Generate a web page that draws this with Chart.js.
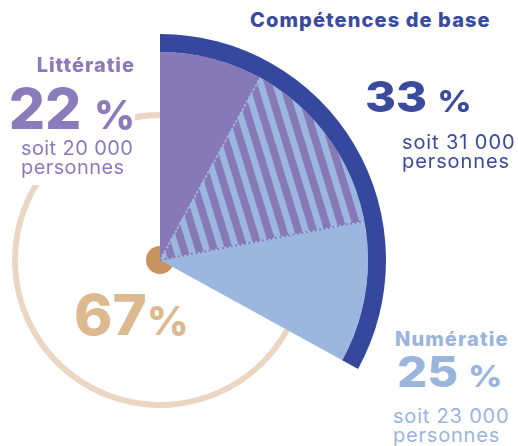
<!DOCTYPE html>
<html lang="fr">
<head>
<meta charset="utf-8">
<script src="https://cdn.jsdelivr.net/npm/chart.js@4"></script>
<style>
  html, body { margin: 0; padding: 0; background: #fff; }
  body { width: 518px; height: 446px; position: relative; overflow: hidden; font-family: Inter, "Noto Sans", sans-serif; }
  canvas { position: absolute; left: -66px; top: 34px; }
  .lbl { position: absolute; line-height: 1; white-space: nowrap; }
  .head { font-weight: 800; font-size: 20px; }
  .big { font-weight: 800; transform-origin: left top; }
  .big span { font-size: 0.7em; }
  .sub { font-size: 20px; line-height: 19px; font-weight: 400; }
</style>
</head>
<body>
<canvas id="ringChart" width="452" height="452"></canvas>
<canvas id="mainChart" width="452" height="452"></canvas>

<div class="lbl head" id="titleBase" style="left:250px; top:10px; color:#3a4a9e; letter-spacing:1.1px"></div>
<div class="lbl head" id="titleLit" style="right:383px; top:55px; color:#8a7bbd; letter-spacing:1px"></div>
<div class="lbl big" id="pctLit" style="right:383px; top:80px; font-size:57px; color:#8a7bbd; background:#fff; padding:0 0 2px 4px"></div>
<div class="lbl sub" id="subLit" style="left:21px; top:139px; color:#8a7bbd; background:#fff; padding-bottom:8px; letter-spacing:0.4px"></div>
<div class="lbl big" id="pctBase" style="left:365px; top:75px; font-size:43px; color:#3a4a9e; transform:scaleX(1.1)"></div>
<div class="lbl sub" id="subBase" style="left:402px; top:133px; color:#3a4a9e; letter-spacing:0.9px"></div>
<div class="lbl head" id="titleNum" style="left:395px; top:329px; color:#9ab5dc; letter-spacing:1.1px"></div>
<div class="lbl big" id="pctNum" style="left:397px; top:350px; font-size:43px; color:#9ab5dc; transform:scaleX(1.1)"></div>
<div class="lbl sub" id="subNum" style="left:393px; top:407px; color:#9ab5dc; letter-spacing:0.8px"></div>
<div class="lbl big" id="pctRest" style="left:74px; top:287px; font-size:56px; color:#dcb98f; transform:scaleX(1.04)"></div>

<script>
const categories = ["Littératie", "Numératie", "Compétences de base"];
const percentValues = [22, 25, 33];
const remainderValue = 67;
const peopleCounts = ["20 000", "23 000", "31 000"];

const purple = "#8779b8";
const lightBlue = "#9bb7df";
const darkBlue = "#36489d";
const beige = "#ead6c3";
const brown = "#c7945f";

// overlap of the two skills = both minus the union
const overlap = percentValues[0] + percentValues[1] - percentValues[2];
const innerValues = [percentValues[0] - overlap, overlap, percentValues[1] - overlap, remainderValue];
const outerValues = [percentValues[2], remainderValue];

function stripes() {
  const w = 15, h = 49;
  const tile = document.createElement("canvas");
  tile.width = w;
  tile.height = h;
  const c = tile.getContext("2d");
  c.fillStyle = lightBlue;
  c.fillRect(0, 0, w, h);
  c.fillStyle = purple;
  for (const off of [-w, 0, w]) {
    c.beginPath();
    c.moveTo(off, 0);
    c.lineTo(off + 8, 0);
    c.lineTo(off + 8 + w, h);
    c.lineTo(off + w, h);
    c.closePath();
    c.fill();
  }
  return c.createPattern(tile, "repeat");
}

const centerDot = {
  id: "centerDot",
  afterDatasetsDraw(chart) {
    const arc = chart.getDatasetMeta(0).data[0];
    const ctx = chart.ctx;
    ctx.save();
    ctx.fillStyle = brown;
    ctx.beginPath();
    ctx.arc(arc.x, arc.y, 14, 0, Math.PI * 2);
    ctx.fill();
    ctx.restore();
  }
};

const dottedEdges = {
  id: "dottedEdges",
  afterDatasetsDraw(chart) {
    const arc = chart.getDatasetMeta(1).data[1];
    const ctx = chart.ctx;
    const edges = [[arc.startAngle, lightBlue], [arc.endAngle, purple]];
    ctx.save();
    ctx.lineWidth = 2;
    ctx.setLineDash([2, 2.5]);
    edges.forEach(([a, col]) => {
      ctx.strokeStyle = col;
      ctx.beginPath();
      ctx.moveTo(arc.x, arc.y);
      ctx.lineTo(arc.x + Math.cos(a) * arc.outerRadius, arc.y + Math.sin(a) * arc.outerRadius);
      ctx.stroke();
    });
    ctx.restore();
  }
};

const common = {
  responsive: false,
  animation: false,
  events: [],
  plugins: { legend: { display: false }, tooltip: { enabled: false } }
};

new Chart("ringChart", {
  type: "doughnut",
  data: {
    labels: ["", "reste"],
    datasets: [{
      data: outerValues,
      backgroundColor: ["rgba(0,0,0,0)", beige],
      borderWidth: 0,
      hoverOffset: 0
    }]
  },
  options: { ...common, radius: 148, cutout: "96%" },
  plugins: [centerDot]
});

new Chart("mainChart", {
  type: "pie",
  data: {
    labels: ["Littératie", "Les deux", "Numératie", "reste"],
    datasets: [
      {
        data: outerValues,
        backgroundColor: [darkBlue, "rgba(0,0,0,0)"],
        borderWidth: 0,
        hoverOffset: 0,
        weight: 18
      },
      {
        data: innerValues,
        backgroundColor: [purple, stripes(), lightBlue, "rgba(0,0,0,0)"],
        borderWidth: 0,
        hoverOffset: 0,
        weight: 208
      }
    ]
  },
  options: { ...common, cutout: 0 },
  plugins: [dottedEdges]
});

function bigText(id, value, space) {
  const el = document.getElementById(id);
  el.textContent = String(value) + (space ? " " : "");
  const pc = document.createElement("span");
  pc.textContent = "%";
  el.appendChild(pc);
}
function subText(id, count) {
  const el = document.getElementById(id);
  el.textContent = "soit " + count;
  el.appendChild(document.createElement("br"));
  el.appendChild(document.createTextNode("personnes"));
}

document.getElementById("titleBase").textContent = categories[2];
document.getElementById("titleLit").textContent = categories[0];
document.getElementById("titleNum").textContent = categories[1];
bigText("pctLit", percentValues[0], true);
bigText("pctNum", percentValues[1], true);
bigText("pctBase", percentValues[2], true);
bigText("pctRest", remainderValue, false);
subText("subLit", peopleCounts[0]);
subText("subNum", peopleCounts[1]);
subText("subBase", peopleCounts[2]);
</script>
</body>
</html>
